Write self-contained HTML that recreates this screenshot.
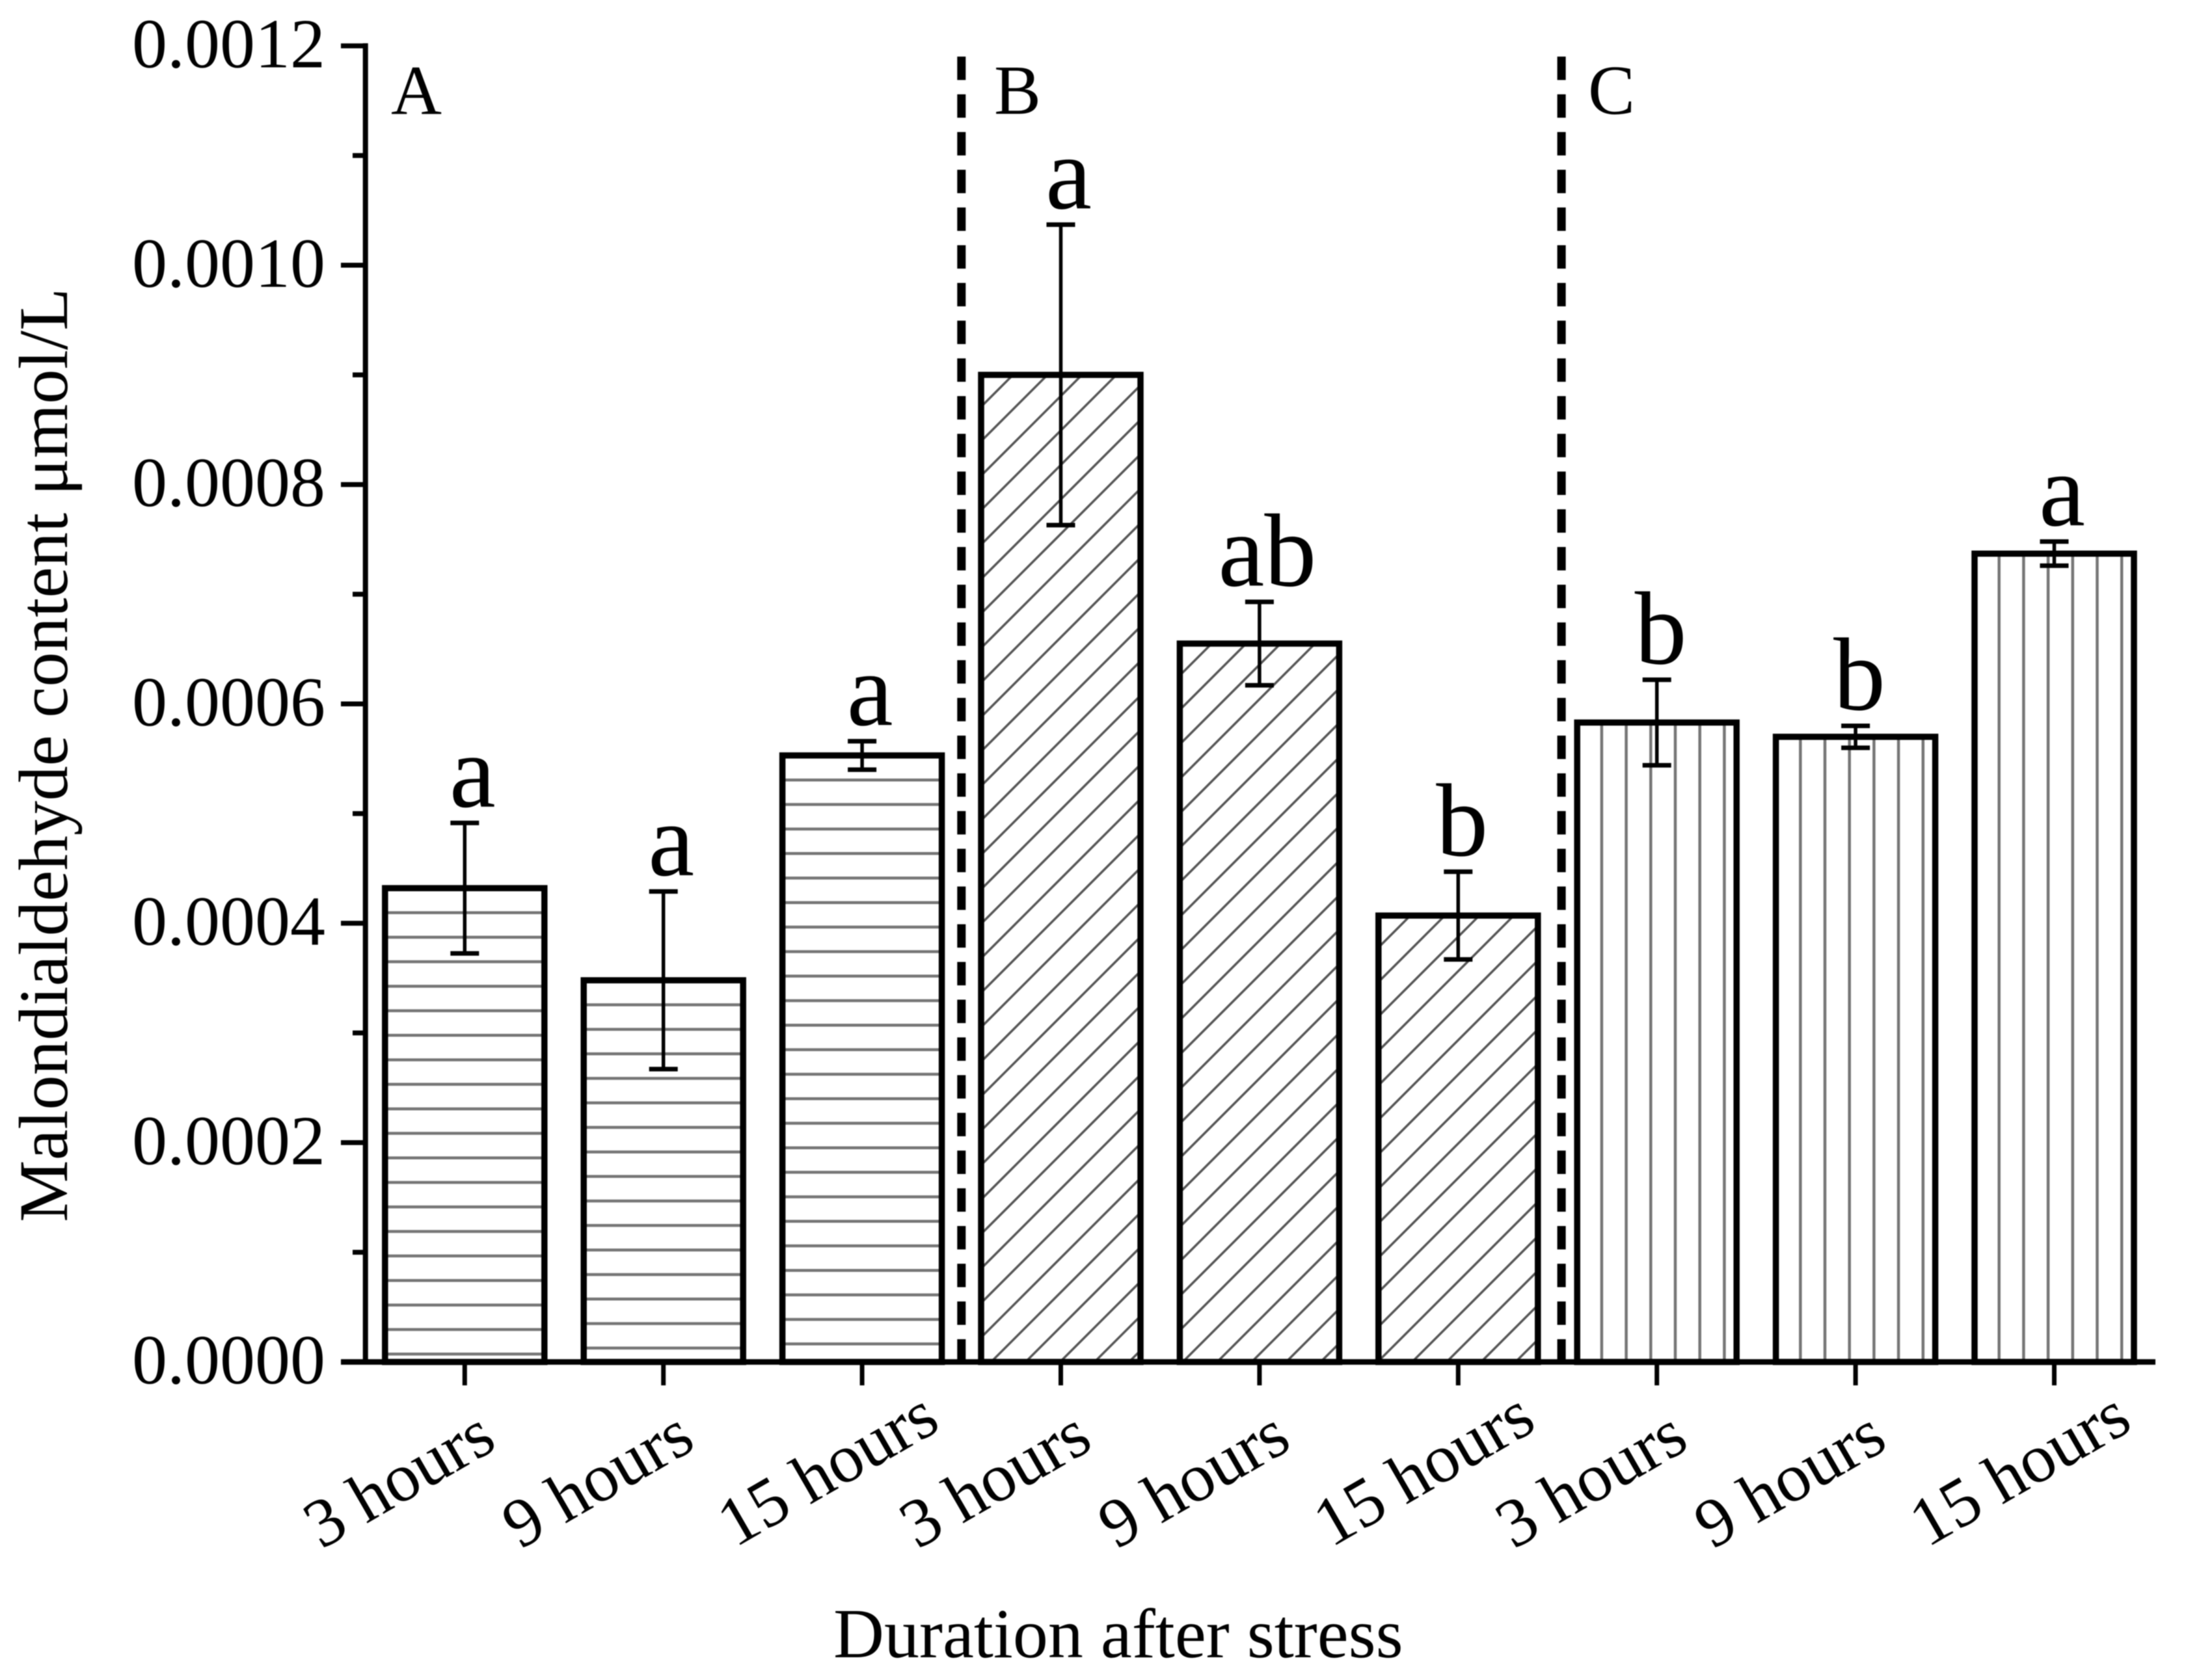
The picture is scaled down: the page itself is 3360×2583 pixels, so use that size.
<!DOCTYPE html>
<html lang="en">
<head>
<meta charset="utf-8">
<title>Malondialdehyde content by duration after stress</title>
<style>
html,body{margin:0;padding:0;background:#fff;}
svg{display:block;filter:blur(0.8px);}
text{font-family:"Liberation Serif","Times New Roman",serif;fill:#000;}
</style>
</head>
<body>
<svg id="chart" xmlns="http://www.w3.org/2000/svg" width="3360" height="2583" viewBox="0 0 3360 2583">
  <rect x="0" y="0" width="3360" height="2583" fill="#fff"/>
  <text transform="translate(103,1879) rotate(-90)" text-anchor="start" font-size="107">Malondialdehyde content μmol/L</text>
  <text x="1281" y="2548" text-anchor="start" font-size="108">Duration after stress</text>
  <text x="601" y="175" font-size="108">A</text>
  <text x="1528" y="175" font-size="108">B</text>
  <text x="2441" y="175" font-size="108">C</text>
  <g id="plot"></g>
</svg>
<script>
const categories = ["3 hours","9 hours","15 hours","3 hours","9 hours","15 hours","3 hours","9 hours","15 hours"];
const groups = ["A","A","A","B","B","B","C","C","C"];
const values = [0.000432,0.000348,0.000553,0.000900,0.000655,0.000407,0.000583,0.000570,0.000737];
const errors = [0.0000595,0.000081,0.000013,0.000137,0.000038,0.000040,0.000039,0.000010,0.000011];
const significance = ["a","a","a","a","ab","b","b","b","a"];
const yTicks = [0,0.0002,0.0004,0.0006,0.0008,0.0010,0.0012];
const yTickLabels = ["0.0000","0.0002","0.0004","0.0006","0.0008","0.0010","0.0012"];
const yMinorTicks = [0.0001,0.0003,0.0005,0.0007,0.0009,0.0011];
const dividerSlots = [2.5,5.52];

const NS = "http://www.w3.org/2000/svg";
const plot = document.getElementById("plot");
const yZero = 2094, yTop = 70.5, yMax = 0.0012;
const axisX = 561.7;
const firstCenter = 714.3, step = 305.4, barW = 245;
const hatchPitch = 37.7, diagPitch = 53;
function y(v){ return yZero - (v / yMax) * (yZero - yTop); }
function x(i){ return firstCenter + i * step; }
function mk(tag, parent){ const e = document.createElementNS(NS, tag); (parent || plot).appendChild(e); return e; }
function setLine(e,x1,y1,x2,y2,w,c){
  e.setAttribute("x1",x1);e.setAttribute("y1",y1);e.setAttribute("x2",x2);e.setAttribute("y2",y2);
  e.setAttribute("stroke",c||"#000");e.setAttribute("stroke-width",w);
}

const defs = mk("defs");
categories.forEach((cat,i)=>{
  const cx = x(i), top = y(values[i]), left = cx - barW/2, right = cx + barW/2;
  const h = yZero - top;
  const group = groups[i];

  const clip = mk("clipPath", defs);
  clip.setAttribute("id","clip"+i);
  const cr = mk("rect", clip);
  cr.setAttribute("x",left);cr.setAttribute("y",top);cr.setAttribute("width",barW);cr.setAttribute("height",h);

  const hatch = mk("g");
  
  
  hatch.setAttribute("clip-path","url(#clip"+i+")");
  if(group==="A"){
    for(let yy=top+hatchPitch;yy<yZero;yy+=hatchPitch){
      const l = mk("line",hatch);
      setLine(l,left,yy,right,yy,4.5,"#757575");
    }
  } else if(group==="C"){
    for(let xx=left+hatchPitch;xx<right;xx+=hatchPitch){
      const l = mk("line",hatch);
      setLine(l,xx,top,xx,yZero,4.5,"#757575");
    }
  } else {
    for(let off=49;off<barW+h;off+=diagPitch){
      const l = mk("line",hatch);
      setLine(l,left+off,top,left+off-h,yZero,3.5,"#555");
    }
  }

  const bar = mk("rect");
  
  
  bar.setAttribute("x",left);bar.setAttribute("y",top);
  bar.setAttribute("width",barW);bar.setAttribute("height",h);
  bar.setAttribute("fill","none");bar.setAttribute("stroke","#000");bar.setAttribute("stroke-width",9.5);

  const hi = y(values[i]+errors[i]), lo = y(values[i]-errors[i]);
  const eg = mk("g");
  
  
  setLine(mk("line",eg),cx,hi,cx,lo,5.5);
  setLine(mk("line",eg),cx-22,hi,cx+22,hi,7);
  setLine(mk("line",eg),cx-22,lo,cx+22,lo,7);

  const sig = mk("text");
  
  
  sig.setAttribute("x",cx+(significance[i]==="b"?6:12));sig.setAttribute("y",hi-25);
  sig.setAttribute("text-anchor","middle");sig.setAttribute("font-size",160);
  sig.textContent = significance[i];

  const tick = mk("line");
  
  
  setLine(tick,cx,yZero,cx,yZero+36,7);

  const longLabel = cat.length > 7;
  const lab = mk("text");
  
  
  lab.setAttribute("text-anchor","middle");lab.setAttribute("font-size",106);
  lab.setAttribute("transform","translate("+(cx+(longLabel?-36:-84))+","+(longLabel?2288:2304)+") rotate(-30)");
  lab.textContent = cat;
});

dividerSlots.forEach((slot,k)=>{
  const d = mk("line");
  
  
  const dx = x(slot);
  setLine(d,dx,87,dx,yZero,13);
  d.setAttribute("stroke-dasharray","36 22");
});

const yAxis = mk("line");


setLine(yAxis,axisX,yTop-4,axisX,yZero,8);
const xAxis = mk("line");


setLine(xAxis,524,yZero,3313,yZero,8.5);

yTicks.forEach((v,i)=>{
  const t = mk("line");
  
  
  setLine(t,524,y(v),axisX,y(v),7.5);
  const l = mk("text");
  
  
  l.setAttribute("x",500);l.setAttribute("y",y(v)+33);
  l.setAttribute("text-anchor","end");l.setAttribute("font-size",108);
  l.textContent = yTickLabels[i];
});
yMinorTicks.forEach(v=>{
  const t = mk("line");
  
  
  setLine(t,542,y(v),axisX,y(v),7.5);
});
</script>
</body>
</html>
